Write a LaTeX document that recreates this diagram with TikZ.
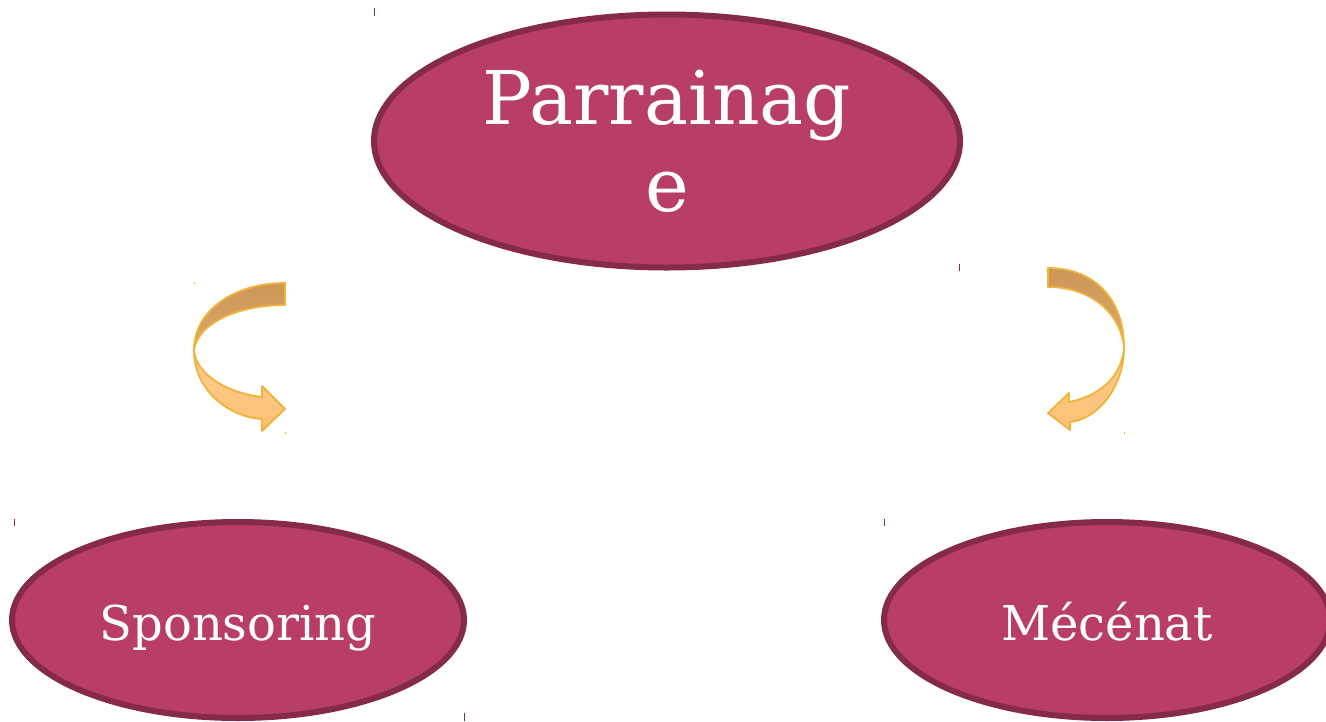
\documentclass[tikz,border=0pt]{standalone}
\usepackage{fontspec}
\setmainfont{DejaVu Serif}
\usetikzlibrary{shapes.geometric}
\definecolor{ellfill}{RGB}{184,61,104}
\definecolor{elldraw}{RGB}{133,42,75}
\definecolor{arrdraw}{RGB}{242,178,58}
\definecolor{darktop}{RGB}{205,150,85}
\definecolor{darkbot}{RGB}{215,170,110}
\definecolor{lighttop}{RGB}{250,205,145}
\definecolor{lightbot}{RGB}{252,192,115}
\tikzset{
  oval/.style={ellipse, fill=ellfill, draw=elldraw, line width=6pt, text=white, inner sep=0pt, align=center},
  backband/.style={draw=arrdraw, line width=1.8pt, line join=round, top color=darktop, bottom color=darkbot},
  frontband/.style={draw=arrdraw, line width=1.8pt, line join=round, top color=lighttop, bottom color=lightbot},
  tick/.style={draw=elldraw, line width=1pt},
  otick/.style={draw=arrdraw, line width=1pt}
}
\begin{document}
\begin{tikzpicture}[x=1pt,y=-1pt]
\useasboundingbox (0,0) rectangle (1326,721);
% ellipses
\node[oval, minimum width=586pt, minimum height=253pt, font=\fontsize{74}{87}\selectfont] (parr) at (667,141) {Parrainag\\e};
\node[oval, minimum width=452pt, minimum height=196pt, text height=40pt, text depth=0pt, font=\fontsize{48}{58}\selectfont] (spon) at (238,620) {Sponsoring};
\node[oval, minimum width=446pt, minimum height=196pt, text height=40pt, text depth=0pt, font=\fontsize{48}{58}\selectfont] (mece) at (1107,620) {Mécénat};
% small bounding marks
\draw[tick] (374,8) -- (374,16);
\draw[tick] (959,264) -- (959,271);
\draw[tick] (14,519) -- (14,526);
\draw[tick] (464,713) -- (464,721);
\draw[tick] (884,519) -- (884,526);
\draw[otick] (194,282) -- (194,284);
\draw[otick] (285,432) -- (285,434);
\draw[otick] (1124,432) -- (1124,434);
% left curved arrow
\path[backband] (285,283) .. controls (235,283) and (194,310) .. (194,350)
   .. controls (198,322) and (240,305) .. (285,305) -- cycle;
\path[frontband] (194,350) .. controls (194,395) and (235,418) .. (262,419)
   -- (262,431) -- (285,409) -- (262,386) -- (262,397)
   .. controls (228,393) and (196,375) .. (194,350) -- cycle;
% right curved arrow
\path[backband] (1048,268) .. controls (1095,268) and (1124,300) .. (1124,347)
   .. controls (1120,312) and (1090,287) .. (1048,287) -- cycle;
\path[frontband] (1124,347) .. controls (1124,390) and (1095,420) .. (1070,422)
   -- (1070,430) -- (1048,413) -- (1069,393) -- (1069,402)
   .. controls (1095,397) and (1122,380) .. (1124,347) -- cycle;
\end{tikzpicture}
\end{document}
